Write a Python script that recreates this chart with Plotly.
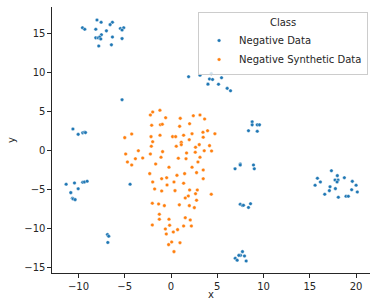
import plotly.graph_objects as go

# Negative Data (blue)
neg_x = [-8.0, -7.55, -6.33, -6.58, -9.57, -9.32, -8.13, -6.98, -5.47, -5.11, -5.29,
         -7.52, -8.13, -7.87, -7.70, -7.59, -6.33, -5.29, -7.81, -6.44,
         -5.29,
         1.9, 3.13, 4.35, 4.16, 4.49, 5.46, 3.99, 5.13, 6.07, 6.43,
         8.77, 8.77, 9.32, 9.56, 8.37, 9.32,
         7.48, 7.48, 6.92, 8.91, 9.0,
         7.48, 7.72, 7.83, 8.59, 8.37,
         7.72, 7.51, 7.33, 7.94, 6.94, 7.15, 8.12,
         17.33, 17.97, 18.73, 15.82, 16.14, 17.72, 18.05, 17.94, 19.59, 15.57,
         20.0, 17.18, 17.76, 19.52, 17.11, 20.13, 16.61, 18.91, 19.16, 18.08,
         -10.6, -10.03, -9.54, -9.35, -9.24,
         -11.33, -10.43, -10.03, -10.83, -10.65, -10.57, -10.36, -9.54, -9.35, -9.06,
         -4.42,
         -6.87, -6.73, -6.83]
neg_y = [16.8, 16.5, 16.5, 16.2, 15.8, 15.6, 15.6, 15.4, 15.7, 15.8, 15.5,
         14.9, 14.5, 14.5, 14.6, 14.35, 14.6, 14.4, 13.45, 13.6,
         6.54,
         9.5, 9.68, 9.9, 9.2, 9.14, 9.37, 8.54, 8.52, 8.0, 7.68,
         3.69, 3.3, 3.3, 3.3, 2.55, 2.47,
         -1.74, -1.87, -2.36, -1.87, -2.36,
         -6.93, -7.08, -7.05, -6.85, -7.33,
         -13.02, -13.5, -13.5, -13.58, -13.88, -14.13, -14.22,
         -2.6, -3.24, -3.5, -3.58, -4.05, -3.8, -3.8, -4.05, -3.97, -4.48,
         -4.48, -4.66, -4.91, -5.05, -5.17, -5.34, -5.64, -5.9, -5.9, -6.02,
         2.77, 2.08, 2.27, 2.34, 2.3,
         -4.35, -4.18, -4.92, -5.43, -6.15, -6.24, -6.33, -4.09, -4.05, -3.96,
         -4.35,
         -10.83, -11.04, -11.84]

# Negative Synthetic Data (orange)
syn_x = [-1.2, -1.98, -2.23, -0.58, 1.0, 2.41, 3.13, 3.63, -2.09, -1.15,
         -0.94, 0.93, 2.01, -4.25, -2.16, -1.19, 0.17, 0.5, 1.36, 2.27,
         3.45, 3.95, 4.74, -1.98, 1.11, 1.97, 3.48, -2.13, 0.57, 1.11,
         3.05, 4.16, 2.65, -3.53, -0.91, 3.59, 4.38, -2.23, 1.68, 2.62,
         -3.85, -3.06, -1.08, 0.79, 1.62, 3.13, -5.0, -4.9, -4.71, -4.25,
         -1.66, -0.22, 2.27, 2.91, 3.48, -2.3, 0.64, 1.47, 2.76, -1.01,
         -0.47, -1.98, 0.32, 1.36, -0.43, 3.48, -1.77, -1.01, 0.43, 2.01,
         2.84, 2.65, 1.87, 1.54, 4.35, 2.76, -2.02, -1.34, -0.72, 0.9,
         1.98, 2.52, -1.26, 1.54, -1.26, -0.22, 2.08, -2.02, -0.15, 1.36,
         2.2, -0.61, 0.71, 0.25, -0.51, 0.07, 0.97, -0.26, 0.32]
syn_y = [5.17, 4.95, 4.57, 4.22, 4.14, 4.48, 4.57, 4.05, 3.24, 3.32,
         3.37, 3.11, 3.45, 2.12, 1.78, 1.96, 1.78, 1.78, 1.96, 2.16,
         2.34, 2.55, 2.16, 1.13, 1.06, 1.39, 1.70, 0.54, 0.54, 0.75,
         0.75, 0.62, 0.41, -0.03, -0.15, -0.03, -0.06, -0.45, -0.32, -0.23,
         -1.06, -0.97, -0.88, -1.0, -1.06, -0.88, 1.65, -0.45, -1.48, -1.87,
         -1.74, -2.16, -2.16, -1.48, -2.51, -2.98, -3.2, -2.98, -2.85, -3.63,
         -3.5, -4.05, -4.05, -4.22, -4.44, -3.63, -4.95, -5.21, -5.17, -5.08,
         -5.08, -5.56, -5.86, -6.11, -5.64, -6.41, -6.8, -6.89, -7.1, -7.0,
         -7.1, -7.36, -8.21, -8.65, -8.86, -8.86, -8.94, -9.59, -9.63, -9.72,
         -9.72, -10.1, -10.19, -10.49, -10.75, -11.78, -11.87, -12.12, -13.02]

x_ticks = [-10, -5, 0, 5, 10, 15, 20]
y_ticks = [-15, -10, -5, 0, 5, 10, 15]

FONT = "DejaVu Sans"
TXT = "#262626"

fig = go.Figure()
fig.add_trace(go.Scatter(x=neg_x, y=neg_y, mode="markers", name="Negative Data",
                         marker=dict(color="#1f77b4", size=3.6,
                                     line=dict(color="white", width=0.4))))
fig.add_trace(go.Scatter(x=syn_x, y=syn_y, mode="markers", name="Negative Synthetic Data",
                         marker=dict(color="#ff7f0e", size=3.6,
                                     line=dict(color="white", width=0.4))))

axis_common = dict(showgrid=False, zeroline=False, showline=True, linecolor=TXT,
                   linewidth=1.1, ticks="outside", ticklen=3.5, tickwidth=1,
                   tickcolor=TXT, tickfont=dict(family=FONT, size=10, color=TXT),
                   mirror=False, automargin=False)

fig.update_layout(
    width=370, height=300,
    margin=dict(l=52, r=0, t=7, b=27),
    paper_bgcolor="white", plot_bgcolor="white",
    font=dict(family=FONT, size=10, color=TXT),
    xaxis=dict(range=[-12.86, 21.5], tickvals=x_ticks,
               title=dict(text="x", font=dict(family=FONT, size=10, color=TXT), standoff=0),
               **axis_common),
    yaxis=dict(range=[-15.77, 18.47], tickvals=y_ticks,
               title=dict(text="y", font=dict(family=FONT, size=10, color=TXT), standoff=6),
               **axis_common),
    legend=dict(x=0.994, y=0.981, xanchor="right", yanchor="top",
                bgcolor="rgba(255,255,255,0.8)", bordercolor="#cccccc", borderwidth=1,
                font=dict(family=FONT, size=10, color=TXT),
                title=dict(text="Class", side="top center",
                           font=dict(family=FONT, size=10, color=TXT)),
                itemsizing="trace", itemwidth=30, tracegroupgap=0),
    showlegend=True,
)

fig.write_html("out.html", config={"displayModeBar": False},
               post_script="document.body.style.margin='0';")
